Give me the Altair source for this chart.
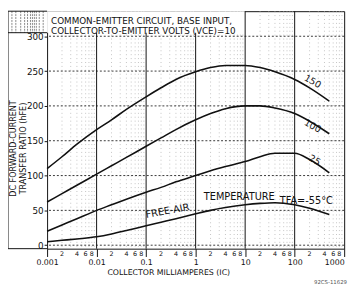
import altair as alt
import pandas as pd

# ---- data ----
ic = [0.001, 0.002, 0.004, 0.01, 0.02, 0.04, 0.1, 0.2, 0.4, 1, 2, 4, 10, 20, 40, 100, 200, 500]
hfe_150 = [110, 127, 145, 166, 180, 195, 213, 226, 238, 249, 255, 258, 258, 255, 249, 238, 226, 207]
hfe_100 = [62, 74, 86, 102, 114, 126, 142, 154, 166, 180, 189, 196, 200, 200, 197, 189, 178, 160]
hfe_25 = [20, 29, 38, 50, 58, 66, 76, 83, 91, 100, 107, 113, 120, 127, 132, 132, 123, 104]
hfe_m55 = [5, 7, 9, 12, 16, 21, 28, 33, 38, 45, 50, 54, 58, 60, 61, 58, 53, 44]
temps = ["150", "100", "25", "-55"]

decades = [0.001, 0.01, 0.1, 1, 10, 100, 1000]
y_ticks = [0, 50, 100, 150, 200, 250, 300]
minor_mults = [2, 3, 4, 5, 6, 7, 8, 9]
minor_label_mults = [2, 4, 6, 8]

curve_label_text = ["150", "100", "25"]
curve_label_x = [230, 230, 253]
curve_label_y = [235, 171, 122]

free_text = ["FREE-AIR", "TEMPERATURE", "TFA=-55°C"]
free_x = [0.27, 7.6, 172]
free_y = [49, 68.6, 63]
free_angle = [346, 356, 13]

title_lines = ["COMMON-EMITTER CIRCUIT, BASE INPUT,", "COLLECTOR-TO-EMITTER VOLTS (VCE)=10"]
title_y = [318, 303]

hatch_px = [-36, -32, -27, -23, -20, -17, -15, -13, -11, -8, -4]

# ---- tables ----
rows = []
for t, vals in zip(temps, [hfe_150, hfe_100, hfe_25, hfe_m55]):
    for x, v in zip(ic, vals):
        rows.append({"ic": x, "hfe": v, "temp": t})
curves = pd.DataFrame(rows)

minor_df = pd.DataFrame({"x": [m * d for d in decades[:-1] for m in minor_mults]})
minor_lab = pd.DataFrame({"x": [m * d for d in decades[:-1] for m in minor_label_mults],
                          "t": [str(m) for d in decades[:-1] for m in minor_label_mults]})
hgrid = pd.DataFrame({"y": y_ticks})
dec_df = pd.DataFrame({"x": decades[1:-1], "y0": [-5] * 5,
                       "y1": [305 if d < 10 else 336 for d in decades[1:-1]]})
box_df = pd.DataFrame({"x": [0.001], "x2": [10], "y": [305], "y2": [336]})
lab_df = pd.DataFrame({"x": curve_label_x, "y": curve_label_y, "t": curve_label_text})
free_df = pd.DataFrame({"x": free_x, "y": free_y, "t": free_text, "a": free_angle})
title_df = pd.DataFrame({"x": [0.0012, 0.0012], "y": title_y, "t": title_lines})
hatch_df = pd.DataFrame({"px": hatch_px})

FONT = "DejaVu Sans"
xs = alt.Scale(type="log", domain=[0.001, 1000], nice=False)
ys = alt.Scale(domain=[-5, 336], nice=False, zero=False)
lab_expr = "datum.value == 0.001 ? '0.001' : datum.value == 0.01 ? '0.01' : datum.value == 0.1 ? '0.1' : format(datum.value, 'd')"

xaxis = alt.Axis(values=decades, labelExpr=lab_expr, tickSize=8, labelPadding=2,
                 labelFontSize=8, labelFont=FONT, labelColor="#111", grid=False, domain=False,
                 labelAlign={"condition": {"test": "datum.value == 1000", "value": "right"}, "value": "center"},
                 tickColor="#111", title="COLLECTOR MILLIAMPERES (IC)", titleFont=FONT,
                 titleFontSize=8, titleFontWeight="normal", titleColor="#111",
                 titleX=124, titleY=20, titleAnchor="middle", labelFlush=False)
yaxis = alt.Axis(values=y_ticks, tickSize=3, labelPadding=1, labelFontSize=9, labelFont=FONT,
                 labelColor="#111", grid=False, domain=False, tickColor="#111",
                 title=["DC FORWARD-CURRENT", "TRANSFER RATIO (hFE)"], titleFont=FONT,
                 titleFontSize=8.2, titleFontWeight="normal", titleColor="#111",
                 titleAngle=270, titleX=-30, titleY=140, titleAlign="center", titleBaseline="bottom")

minor = alt.Chart(minor_df).mark_rule(color="#aaa", strokeWidth=0.7, strokeDash=[1, 3]).encode(
    x=alt.X("x:Q", scale=xs, axis=xaxis))
hlines = alt.Chart(hgrid).mark_rule(color="#222", strokeWidth=0.9, strokeDash=[2, 2]).encode(
    y=alt.Y("y:Q", scale=ys, axis=yaxis))
box = alt.Chart(box_df).mark_rect(color="white").encode(
    x=alt.X("x:Q", scale=xs), x2="x2:Q", y=alt.Y("y:Q", scale=ys), y2="y2:Q")
dec = alt.Chart(dec_df).mark_rule(color="#111", strokeWidth=1).encode(
    x=alt.X("x:Q", scale=xs), y=alt.Y("y0:Q", scale=ys), y2="y1:Q")
lines = alt.Chart(curves).mark_line(color="#111", strokeWidth=1.6, interpolate="monotone").encode(
    x=alt.X("ic:Q", scale=xs), y=alt.Y("hfe:Q", scale=ys), detail="temp:N")
clabels = alt.Chart(lab_df).mark_text(font=FONT, fontSize=9.5, angle=30, color="#111").encode(
    x=alt.X("x:Q", scale=xs), y=alt.Y("y:Q", scale=ys), text="t:N")
free = alt.Chart(free_df).mark_text(font=FONT, fontSize=10, color="#111").encode(
    x=alt.X("x:Q", scale=xs), y=alt.Y("y:Q", scale=ys), text="t:N", angle="a:Q")
titles = alt.Chart(title_df).mark_text(font=FONT, fontSize=9, color="#111", align="left",
                                       baseline="alphabetic").encode(
    x=alt.X("x:Q", scale=xs), y=alt.Y("y:Q", scale=ys), text="t:N")
mlabels = alt.Chart(minor_lab).mark_text(font=FONT, fontSize=6.5, color="#111", baseline="middle").encode(
    x=alt.X("x:Q", scale=xs), y=alt.value(249), text="t:N")
hatch = alt.Chart(hatch_df).mark_rule(color="#555", strokeWidth=0.7, strokeDash=[2, 1]).encode(
    x=alt.X("px:Q", scale=None), y=alt.value(0), y2=alt.value(22))
frame_l = alt.Chart(pd.DataFrame({"k": [0]})).mark_rule(color="#111", strokeWidth=1).encode(
    x=alt.value(-40), y=alt.value(0), y2=alt.value(243))
frame_t = alt.Chart(pd.DataFrame({"k": [0]})).mark_rule(color="#111", strokeWidth=1).encode(
    x=alt.value(-40), x2=alt.value(0), y=alt.value(0))
frame_m = alt.Chart(pd.DataFrame({"k": [0]})).mark_rule(color="#111", strokeWidth=1).encode(
    x=alt.value(-40), x2=alt.value(0), y=alt.value(22))
frame_b = alt.Chart(pd.DataFrame({"k": [0]})).mark_rule(color="#111", strokeWidth=1).encode(
    x=alt.value(-40), x2=alt.value(0), y=alt.value(243))
foot = alt.Chart(pd.DataFrame({"t": ["92CS-11629"]})).mark_text(font=FONT, fontSize=5.5, color="#555").encode(
    x=alt.value(290), y=alt.value(277), text="t:N")

chart = alt.layer(minor, hlines, box, dec, lines, clabels, free, titles, mlabels,
                  hatch, frame_l, frame_t, frame_m, frame_b, foot).properties(
    width=304, height=243,
    autosize=alt.AutoSizeParams(type="none"),
    padding={"left": 40, "top": 0, "right": 8, "bottom": 38},
    background="white",
).configure_view(stroke="#111", strokeWidth=1)

chart.save("out.html", embed_options={"renderer": "svg", "actions": False})
